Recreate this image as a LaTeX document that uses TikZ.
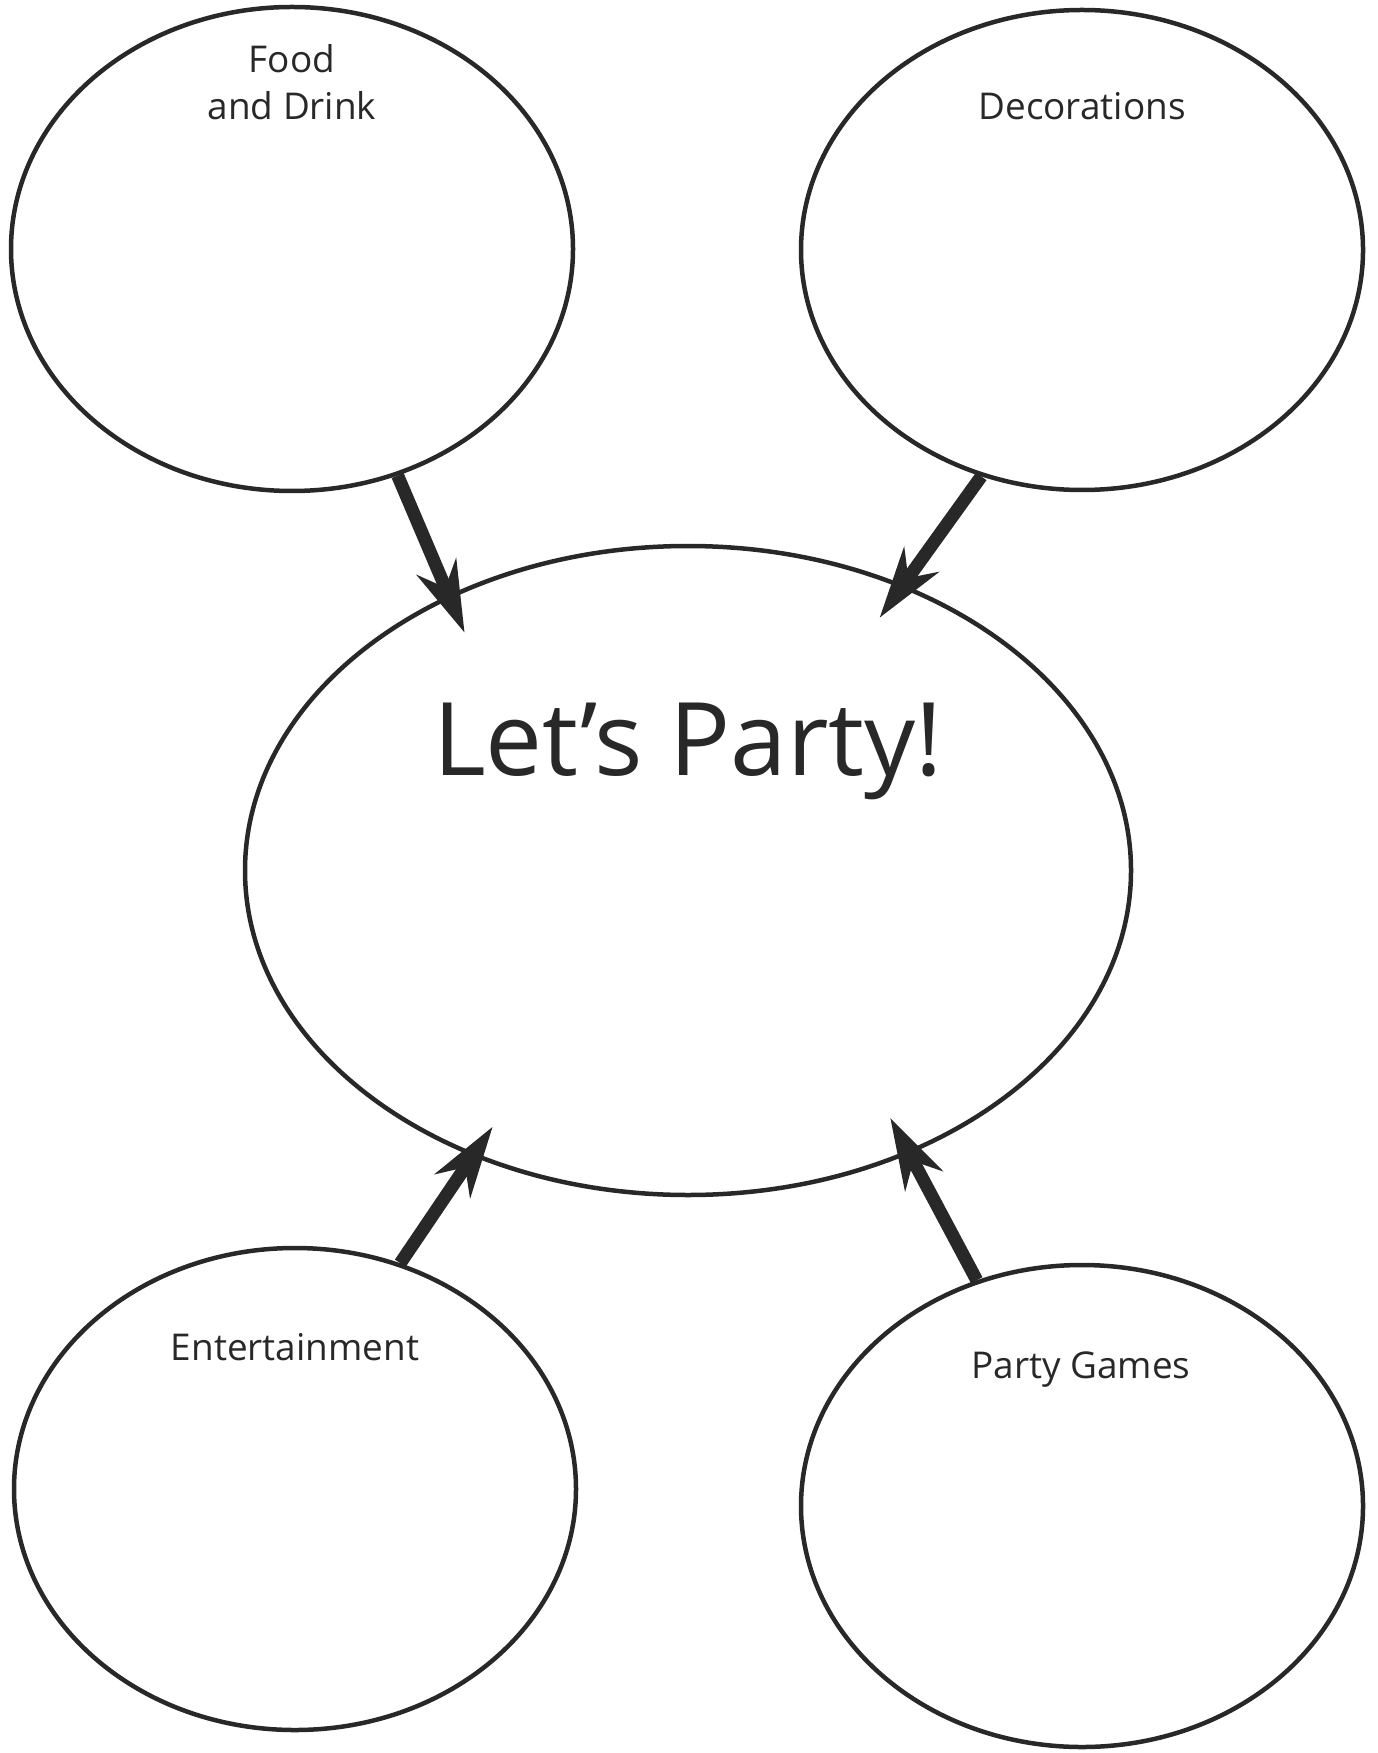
\documentclass[tikz,border=0pt]{standalone}
\usepackage{fontspec}
\setmainfont{Open Sans}
\usetikzlibrary{arrows.meta,shapes.geometric}

\definecolor{ink}{HTML}{282828}

\begin{document}
\begin{tikzpicture}[
    bubble/.style={draw=ink,line width=0.045cm,ellipse,inner sep=0pt},
    topic/.style={text=ink,inner sep=0pt,anchor=base,
                  font=\fontsize{10.5}{13.4}\selectfont,align=center},
    feed/.style={draw=ink,line width=0.13cm,
                 -{Stealth[length=0.71cm,width=0.42cm,inset=0.22cm]},
                 shorten >=-0.41cm}]
\useasboundingbox (0,0) rectangle (13.78,-17.53);

\node [bubble,minimum width=5.62cm,minimum height=4.84cm] (food)  at ( 2.92,- 2.49) {};
\node [bubble,minimum width=5.62cm,minimum height=4.80cm] (decor) at (10.82,- 2.50) {};
\node [bubble,minimum width=8.86cm,minimum height=6.49cm] (party) at ( 6.88,- 8.705) {};
\node [bubble,minimum width=5.62cm,minimum height=4.82cm] (enter) at ( 2.95,-14.89) {};
\node [bubble,minimum width=5.62cm,minimum height=4.82cm] (games) at (10.82,-15.06) {};

\node [topic] (foodtxt)  at ( 2.92,- 1.20) {Food\\and Drink};
\node [topic] (decortxt) at (10.82,- 1.20) {Decorations};
\node [topic,font=\fontsize{28.9}{34}\selectfont] (partytxt) at ( 6.88,- 7.75) {Let’s Party!};
\node [topic] (entertxt) at ( 2.95,-13.60) {Entertainment};
\node [topic] (gamestxt) at (10.81,-13.78) {Party Games};

\draw [feed] (food.-65)  -- (party.131);
\draw [feed] (decor.246) -- (party.53);
\draw [feed,shorten >=-0.36cm] (enter.65.6) -- (party.233);
\draw [feed] (games.115) -- (party.-52.4);
\end{tikzpicture}
\end{document}
